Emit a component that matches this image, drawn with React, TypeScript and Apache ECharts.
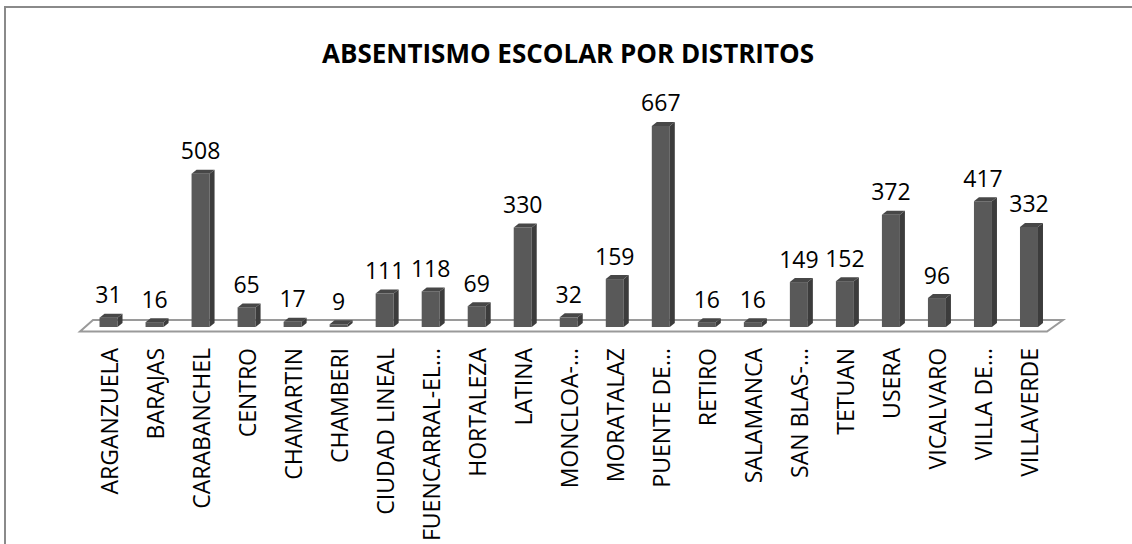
import React, { useEffect, useRef } from "react";
import * as echarts from "echarts";

const categories = [
  "ARGANZUELA", "BARAJAS", "CARABANCHEL", "CENTRO", "CHAMARTIN", "CHAMBERI",
  "CIUDAD LINEAL", "FUENCARRAL-EL...", "HORTALEZA", "LATINA", "MONCLOA-...",
  "MORATALAZ", "PUENTE DE...", "RETIRO", "SALAMANCA", "SAN BLAS-...", "TETUAN",
  "USERA", "VICALVARO", "VILLA DE...", "VILLAVERDE",
];
const values = [31, 16, 508, 65, 17, 9, 111, 118, 69, 330, 32, 159, 667, 16, 16, 149, 152, 372, 96, 417, 332];
const titleText = "ABSENTISMO ESCOLAR POR DISTRITOS";

const FONT = "'Open Sans', 'Noto Sans', sans-serif";

export default function App() {
  const ref = useRef<HTMLDivElement>(null);
  useEffect(() => {
    if (!ref.current) return;
    const chart = echarts.init(ref.current, null, { renderer: "svg" });
    const W = 18, DX = 5, DY = 4;
    const option: any = {
      animation: false,
      backgroundColor: "#ffffff",
      title: {
        text: titleText,
        left: 563,
        textAlign: "center",
        top: 35,
        textStyle: { fontFamily: FONT, fontSize: 26, fontWeight: "bold", color: "#000" },
      },
      grid: { left: 85.5, right: 80, top: 116, bottom: 216 },
      xAxis: {
        type: "category",
        data: categories,
        axisLine: { show: false },
        axisTick: { show: false },
        axisLabel: {
          rotate: 90,
          interval: 0,
          margin: 21,
          fontFamily: FONT,
          fontSize: 23,
          color: "#000",
        },
      },
      yAxis: {
        type: "value",
        min: 0,
        max: 700,
        show: false,
        splitLine: { show: false },
      },
      graphic: [
        {
          type: "polygon",
          z: 0,
          shape: { points: [[80, 331.5], [1047, 331.5], [1063, 320], [93, 320]] },
          style: { fill: "#ffffff", stroke: "#9a9a9a", lineWidth: 2 },
        },
        {
          type: "polyline",
          shape: { points: [[5, 544], [5, 7], [1132, 7]] },
          style: { fill: "none", stroke: "#8a8a8a", lineWidth: 2 },
        },
      ],
      series: [
        {
          type: "custom",
          z: 10,
          data: values.map((v, i) => [i, v]),
          encode: { x: 0, y: 1 },
          renderItem: (params: any, api: any) => {
            const i = api.value(0);
            const v = api.value(1);
            const top = api.coord([i, v]);
            const base = api.coord([i, 0]);
            const cx = top[0];
            const ty = top[1];
            const by = base[1];
            const l = cx - W / 2, r = cx + W / 2;
            return {
              type: "group",
              children: [
                {
                  type: "rect",
                  shape: { x: l, y: ty, width: W, height: by - ty },
                  style: { fill: "#595959" },
                },
                {
                  type: "polygon",
                  shape: { points: [[r, ty], [r + DX, ty - DY], [r + DX, by - DY], [r, by]] },
                  style: { fill: "#3c3c3c" },
                },
                {
                  type: "polygon",
                  shape: { points: [[l, ty], [l + DX, ty - DY], [r + DX, ty - DY], [r, ty]] },
                  style: { fill: "#474747" },
                },
                {
                  type: "text",
                  x: cx,
                  y: ty - DY - 8,
                  style: {
                    text: String(v),
                    fontFamily: FONT,
                    fontSize: 23,
                    fill: "#000",
                    align: "center",
                    verticalAlign: "bottom",
                  },
                },
              ],
            };
          },
        },
      ],
    };
    chart.setOption(option);
    return () => chart.dispose();
  }, []);
  return (
    <div
      ref={ref}
      style={{ position: "fixed", left: 0, top: 0, width: 1132, height: 544, background: "#fff" }}
    />
  );
}
